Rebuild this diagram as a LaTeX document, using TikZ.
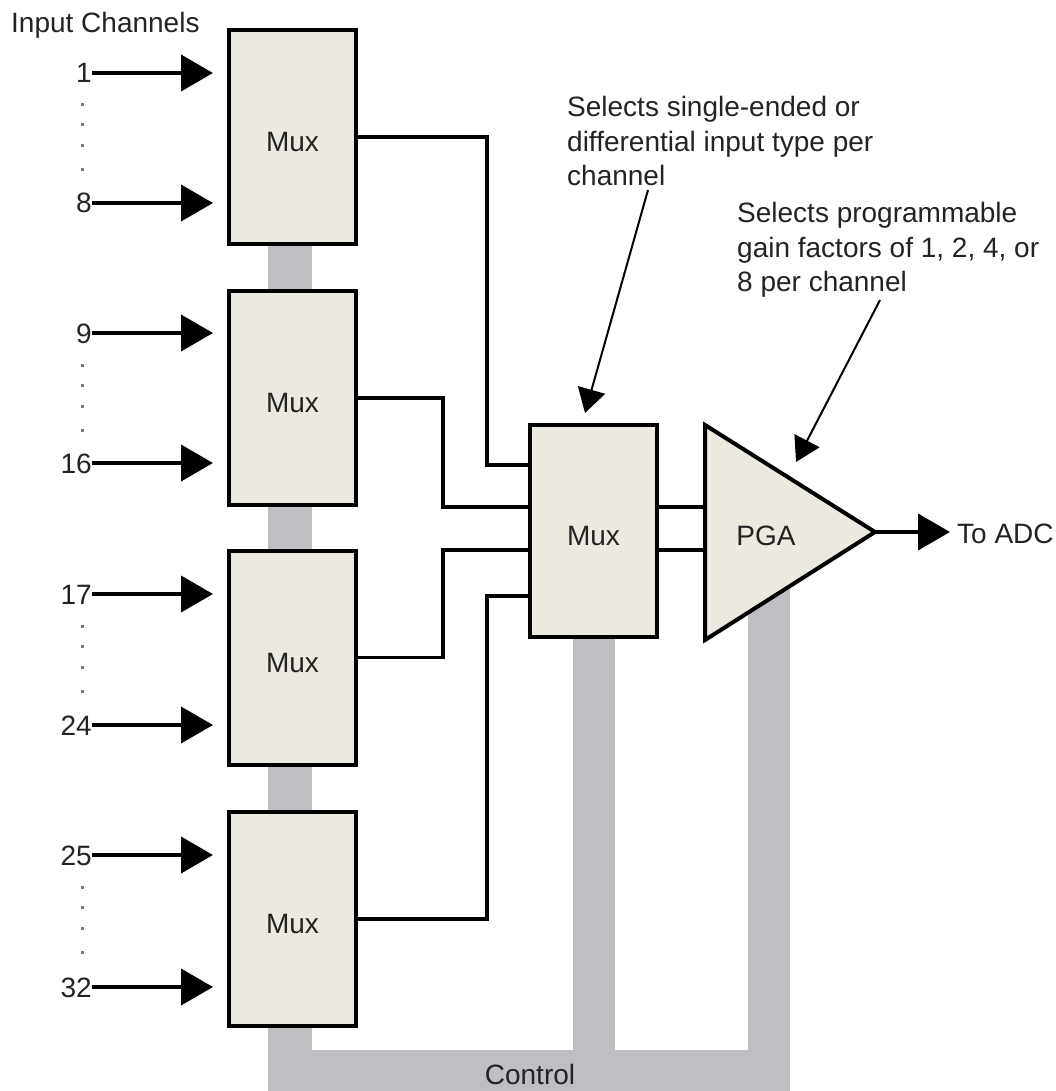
\documentclass[tikz,border=0pt]{standalone}
\usepackage{fontspec}
\setmainfont{Liberation Sans}
\usetikzlibrary{arrows.meta,calc}
\definecolor{boxfill}{RGB}{236,233,225}
\definecolor{busgray}{RGB}{190,191,195}
\definecolor{txt}{RGB}{35,35,35}
\definecolor{dotgray}{RGB}{120,120,120}
\begin{document}
\begin{tikzpicture}[x=1pt,y=-1pt,
  every node/.style={font=\fontsize{28}{34.5}\selectfont, text=txt, inner sep=0pt},
  muxbox/.style={draw=black, line width=4pt, fill=boxfill, minimum width=127pt, minimum height=214pt, text height=29pt, text depth=0pt},
  wire/.style={line width=3.5pt, line cap=rect, line join=miter},
  inarrow/.style={line width=4pt, -{Triangle[length=32pt,width=36pt]}},
  notearrow/.style={line width=2pt, -{Triangle[length=24pt,width=28pt]}},
  lbl/.style={anchor=base east},
  chdot/.style={fill=dotgray}
]
\useasboundingbox (0,0) rectangle (1055,1091);

% control bus
\fill[busgray] (268,240) rectangle (312,1091);
\fill[busgray] (573,630) rectangle (615,1091);
\fill[busgray] (748,580) rectangle (790,1091);
\fill[busgray] (268,1050) rectangle (790,1091);
\node (ctl) at (530,1074) {Control};

% first-stage multiplexers
\node[muxbox] (b1) at (292.5,137) {Mux};
\node[muxbox] (b2) at (292.5,398) {Mux};
\node[muxbox] (b3) at (292.5,657.5) {Mux};
\node[muxbox] (b4) at (292.5,919) {Mux};

% second-stage multiplexer
\node[muxbox, minimum height=212pt] (cm) at (593.5,530.5) {Mux};

\node[anchor=base west] (title) at (11,33) {Input Channels};

% input channel arrows
\foreach \lab/\yy/\nm in {1/73/a,8/203/b,9/333/c,16/463/d,17/594/e,24/725/f,25/855/g,32/987/h}{
  \node[lbl] (n\nm) at (92,\yy+10) {\lab};
  \coordinate (t\nm) at (213,\yy);
  \draw[inarrow] (n\nm.east |- t\nm) -- (t\nm);
}
% dots between channel numbers
\foreach \y in {73,333,594,855}{
  \foreach \d in {32,52,73,97}{
    \fill[chdot] (80.5,\y+\d-1.5) rectangle (83.5,\y+\d+1.5);
  }
}

% wires into the second mux
\coordinate (c1) at ($(cm.west)+(0,-65.5)$);
\coordinate (c2) at ($(cm.west)+(0,-23.5)$);
\coordinate (c3) at ($(cm.west)+(0,19.5)$);
\coordinate (c4) at ($(cm.west)+(0,65.5)$);
\draw[wire] (b1.east) -| ($(c1)+(-41,0)$) -- (c1);
\draw[wire] (b2.east) -| ($(c2)+(-85,0)$) -- (c2);
\draw[wire] (b3.east) -| ($(c3)+(-85,0)$) -- (c3);
\draw[wire] (b4.east) -| ($(c4)+(-41,0)$) -- (c4);

% PGA
\coordinate (pgaT) at (705,425);
\coordinate (pgaB) at (705,640);
\coordinate (pgaTip) at (875,532);
\coordinate (p1) at (705,507);
\coordinate (p2) at (705,550);
\draw[wire] (cm.east |- p1) -- (p1);
\draw[wire] (cm.east |- p2) -- (p2);
\draw[line width=4pt, line join=miter, fill=boxfill] (pgaT) -- (pgaTip) -- (pgaB) -- cycle;
\node[anchor=base] (pga) at (766,545) {PGA};

% output
\coordinate (adc) at (950,532);
\draw[inarrow] (pgaTip) -- (adc);
\node[anchor=base west] (adcl) at (957,543) {To ADC};

% annotations
\node[anchor=north west, align=left] (note1) at (567,96.5) {Selects single-ended or\\differential input type per\\channel};
\node[anchor=north west, align=left] (note2) at (737,202.5) {Selects programmable\\gain factors of 1, 2, 4, or\\8 per channel};
\coordinate (n1s) at (648,190);
\coordinate (n1t) at (585,413);
\coordinate (n2s) at (880,300);
\coordinate (n2t) at (796,462);
\draw[notearrow] (n1s) -- (n1t);
\draw[notearrow] (n2s) -- (n2t);
\end{tikzpicture}
\end{document}
